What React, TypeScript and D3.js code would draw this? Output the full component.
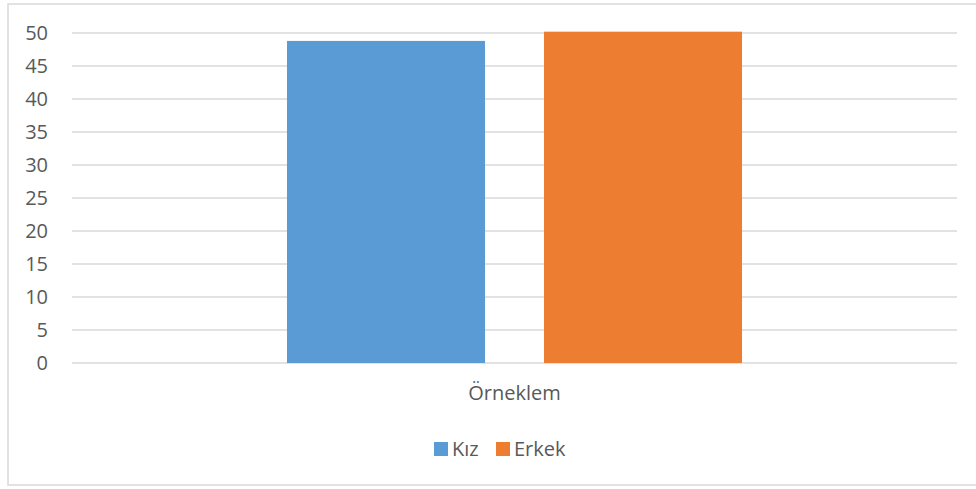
import React from "react";
import * as d3 from "d3";

const categories = ["Örneklem"];
const seriesNames = ["Kız", "Erkek"];
const seriesValues = [48.8, 50.2];
const seriesColors = ["#5B9BD5", "#ED7D31"];
const yTicks = [0, 5, 10, 15, 20, 25, 30, 35, 40, 45, 50];

const W = 976;
const H = 489;
const plot = { left: 72, right: 957, top: 33, bottom: 363 };
const FONT = "'Open Sans', 'Noto Sans', sans-serif";
const TEXT = "#595959";
const GRID = "#D9D9D9";

export default function App() {
  const y = d3.scaleLinear().domain([0, 50]).range([plot.bottom, plot.top]);
  const x0 = d3.scaleBand().domain(categories).range([plot.left, plot.right]).paddingInner(0).paddingOuter(0.4725);
  const x1 = d3.scaleBand().domain(seriesNames).range([0, x0.bandwidth()]).paddingInner(0.2296);

  const legendItems = [
    { name: seriesNames[0], color: seriesColors[0], x: 434, tx: 452 },
    { name: seriesNames[1], color: seriesColors[1], x: 496, tx: 514 },
  ];

  return (
    <svg width={W} height={H} style={{ position: "absolute", left: 0, top: 0, background: "#fff" }} fontFamily={FONT}>
      <rect x={8} y={4} width={990} height={481} fill="#fff" stroke={GRID} strokeWidth={1.5} />
      {yTicks.map((t) => (
        <g key={t}>
          <line x1={plot.left} x2={plot.right} y1={y(t)} y2={y(t)} stroke={GRID} strokeWidth={1.3} />
          <text x={48} y={y(t)} dy="0.35em" textAnchor="end" fontSize={20} fill={TEXT}>
            {t}
          </text>
        </g>
      ))}
      {categories.map((c) => (
        <g key={c} transform={`translate(${x0(c)},0)`}>
          {seriesNames.map((s, i) => (
            <rect
              key={s}
              x={x1(s)}
              y={y(seriesValues[i])}
              width={x1.bandwidth()}
              height={y(0) - y(seriesValues[i])}
              fill={seriesColors[i]}
            />
          ))}
        </g>
      ))}
      {categories.map((c) => (
        <text key={c} x={(x0(c) as number) + x0.bandwidth() / 2} y={393} dy="0.35em" textAnchor="middle" fontSize={20} fill={TEXT}>
          {c}
        </text>
      ))}
      {legendItems.map((l) => (
        <g key={l.name}>
          <rect x={l.x} y={442} width={14} height={14} fill={l.color} />
          <text x={l.tx} y={448.5} dy="0.35em" fontSize={20} fill={TEXT}>
            {l.name}
          </text>
        </g>
      ))}
    </svg>
  );
}
